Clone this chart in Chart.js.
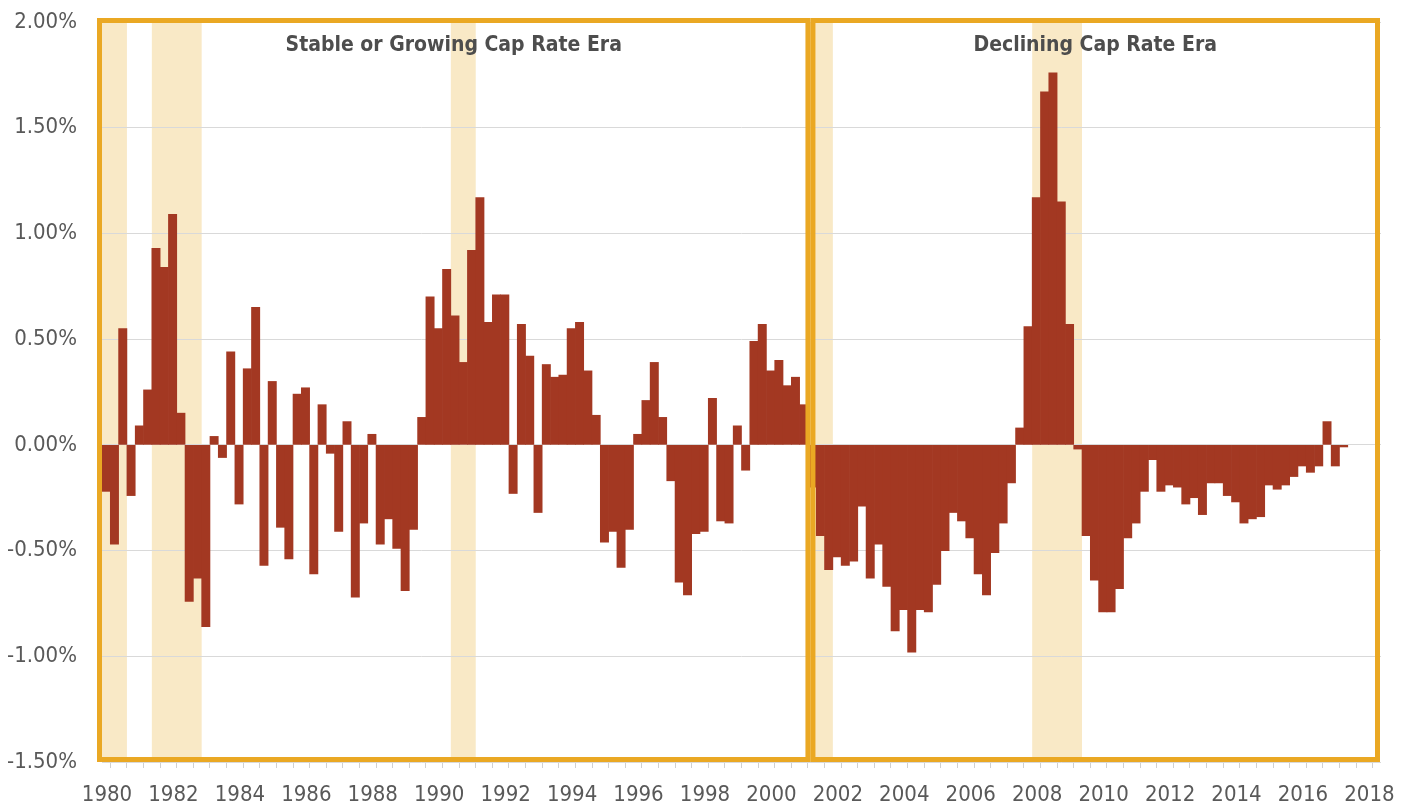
<!DOCTYPE html>
<html>
<head>
<meta charset="utf-8">
<title>Quarterly change in cap rate</title>
<script src="https://cdn.jsdelivr.net/npm/chart.js@4.4.1/dist/chart.umd.min.js"></script>
<style>
  html, body { margin: 0; padding: 0; background: #fff; }
  canvas { display: block; }
</style>
</head>
<body>
<canvas id="capRateChart" width="1408" height="808"></canvas>
<script>
// quarterly change in cap rate (%), 1980 Q1 .. 2017 Q2
const startYear = 1980;
const capRateChange = [
  -0.22, -0.47, 0.55, -0.24,   // 1980
  0.09, 0.26, 0.93, 0.84,      // 1981
  1.09, 0.15, -0.74, -0.63,    // 1982
  -0.86, 0.04, -0.06, 0.44,    // 1983
  -0.28, 0.36, 0.65, -0.57,    // 1984
  0.30, -0.39, -0.54, 0.24,    // 1985
  0.27, -0.61, 0.19, -0.04,    // 1986
  -0.41, 0.11, -0.72, -0.37,   // 1987
  0.05, -0.47, -0.35, -0.49,   // 1988
  -0.69, -0.40, 0.13, 0.70,    // 1989
  0.55, 0.83, 0.61, 0.39,      // 1990
  0.92, 1.17, 0.58, 0.71,      // 1991
  0.71, -0.23, 0.57, 0.42,     // 1992
  -0.32, 0.38, 0.32, 0.33,     // 1993
  0.55, 0.58, 0.35, 0.14,      // 1994
  -0.46, -0.41, -0.58, -0.40,  // 1995
  0.05, 0.21, 0.39, 0.13,      // 1996
  -0.17, -0.65, -0.71, -0.42,  // 1997
  -0.41, 0.22, -0.36, -0.37,   // 1998
  0.09, -0.12, 0.49, 0.57,     // 1999
  0.35, 0.40, 0.28, 0.32,      // 2000
  0.19, -0.20, -0.43, -0.59,   // 2001
  -0.53, -0.57, -0.55, -0.29,  // 2002
  -0.63, -0.47, -0.67, -0.88,  // 2003
  -0.78, -0.98, -0.78, -0.79,  // 2004
  -0.66, -0.50, -0.32, -0.36,  // 2005
  -0.44, -0.61, -0.71, -0.51,  // 2006
  -0.37, -0.18, 0.08, 0.56,    // 2007
  1.17, 1.67, 1.76, 1.15,      // 2008
  0.57, -0.02, -0.43, -0.64,   // 2009
  -0.79, -0.79, -0.68, -0.44,  // 2010
  -0.37, -0.22, -0.07, -0.22,  // 2011
  -0.19, -0.20, -0.28, -0.25,  // 2012
  -0.33, -0.18, -0.18, -0.24,  // 2013
  -0.27, -0.37, -0.35, -0.34,  // 2014
  -0.19, -0.21, -0.19, -0.15,  // 2015
  -0.10, -0.13, -0.10, 0.11,   // 2016
  -0.10, -0.01                 // 2017
];

// recessions (shaded), in fractional years
const recessionStart = [1980.0, 1981.5, 1990.5, 2001.25, 2008.0];
const recessionEnd = [1980.75, 1983.0, 1991.25, 2002.0, 2009.5];

// the two boxed eras
const eraLabels = ['Stable or Growing Cap Rate Era', 'Declining Cap Rate Era'];
const eraStart = [1980, 2001.25];
const eraEnd = [2001.25, 2018.5];

const yTicks = [-1.5, -1.0, -0.5, 0, 0.5, 1.0, 1.5, 2.0];

const narrow = "'Liberation Sans Narrow', 'DejaVu Sans Condensed', 'Arial Narrow', sans-serif";

const points = capRateChange.map((v, i) => ({ x: startYear + i / 4 + 0.125, y: v }));

const eraPlugin = {
    id: 'eras',
    beforeDraw(chart) {
        const { ctx, chartArea } = chart;
        const x = chart.scales.x;
        ctx.save();
        ctx.fillStyle = '#F9E9C6';
        for (let i = 0; i < recessionStart.length; i++) {
            const x1 = x.getPixelForValue(recessionStart[i]);
            const x2 = x.getPixelForValue(recessionEnd[i]);
            ctx.fillRect(x1, chartArea.top, x2 - x1, chartArea.bottom - chartArea.top);
        }
        ctx.restore();
    },
    afterDatasetsDraw(chart) {
        const { ctx, chartArea } = chart;
        const x = chart.scales.x;
        ctx.save();
        ctx.strokeStyle = '#EAA823';
        ctx.lineWidth = 5;
        for (let i = 0; i < eraLabels.length; i++) {
            let x1 = x.getPixelForValue(eraStart[i]);
            let x2 = x.getPixelForValue(eraEnd[i]);
            x1 += (i === 0) ? -2.5 : 5;
            x2 += (i === 0) ? 0 : -3.5;
            ctx.strokeRect(x1, chartArea.top - 1.5, x2 - x1, chartArea.bottom - chartArea.top - 1);

            ctx.fillStyle = '#4d4d4d';
            ctx.font = 'bold 21px ' + narrow;
            ctx.textAlign = 'center';
            ctx.textBaseline = 'middle';
            ctx.fillText(eraLabels[i], (x1 + x2) / 2, 46);
        }
        ctx.restore();
    }
};

new Chart(document.getElementById('capRateChart'), {
    type: 'bar',
    data: {
        datasets: [{
            data: points,
            backgroundColor: '#A33822',
            borderWidth: 0,
            barPercentage: 1,
            categoryPercentage: 1
        }]
    },
    options: {
        responsive: false,
        animation: false,
        devicePixelRatio: 1,
        layout: { padding: { top: 22, right: 27, left: 0, bottom: 0 } },
        plugins: {
            legend: { display: false },
            tooltip: { enabled: false }
        },
        scales: {
            x: {
                type: 'linear',
                min: 1980,
                max: 2018.5,
                offset: false,
                border: { display: false },
                grid: { drawOnChartArea: false, drawTicks: true, tickLength: 6, color: '#d0d0d0', lineWidth: 1 },
                ticks: {
                    stepSize: 0.5,
                    autoSkip: false,
                    maxRotation: 0,
                    padding: 14,
                    labelOffset: 5,
                    color: '#595959',
                    font: { family: narrow, size: 22 },
                    callback: function (value) {
                        return (value % 2 === 0) ? String(value) : '';
                    }
                },
                afterFit: function (scale) {
                    scale.height = 46;
                    scale.paddingLeft = 0;
                    scale.paddingRight = 0;
                }
            },
            y: {
                min: -1.5,
                max: 2.0,
                border: { display: false },
                grid: { color: '#d9d9d9', lineWidth: 1, drawTicks: false },
                afterBuildTicks: function (scale) {
                    scale.ticks = yTicks.map(v => ({ value: v }));
                },
                ticks: {
                    padding: 25,
                    color: '#595959',
                    font: { family: narrow, size: 22 },
                    callback: function (value) {
                        return value.toFixed(2) + '%';
                    }
                },
                afterFit: function (scale) {
                    scale.width = 102;
                    scale.paddingTop = 0;
                    scale.paddingBottom = 0;
                }
            }
        }
    },
    plugins: [eraPlugin]
});
</script>
</body>
</html>
